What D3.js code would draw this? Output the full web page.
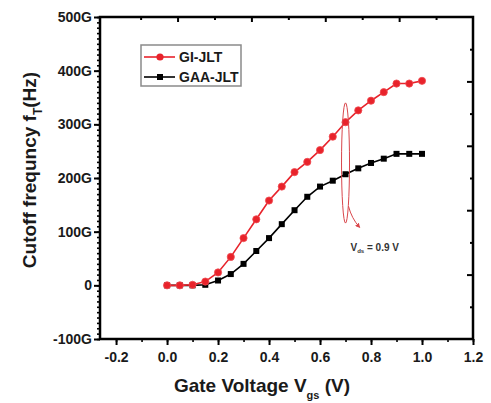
<!DOCTYPE html>
<html>
<head>
<meta charset="utf-8">
<script src="https://cdn.jsdelivr.net/npm/d3@7"></script>
<style>
  html, body { margin: 0; padding: 0; background: #fff; }
  svg { display: block; font-family: "Liberation Sans", Arial, sans-serif; }
</style>
</head>
<body>
<svg id="chart" width="491" height="403"></svg>
<script>
// ---- data ----
const vgs = [0.00,0.05,0.10,0.15,0.20,0.25,0.30,0.35,0.40,0.45,0.50,0.55,0.60,0.65,0.70,0.75,0.80,0.85,0.90,0.95,1.00];
const giJlt  = [0,0,1,7,24,53,88,123,158,184,211,230,252,277,304,326,344,360,376,376,381];
const gaaJlt = [0,0,0,1,9,21,40,64,88,114,140,165,184,195,207,218,228,236,245,245,245];
const seriesNames = ["GI-JLT", "GAA-JLT"];
const xTicks = [-0.2,0.0,0.2,0.4,0.6,0.8,1.0,1.2];
const xTickLabels = ["-0.2","0.0","0.2","0.4","0.6","0.8","1.0","1.2"];
const yTicks = [-100,0,100,200,300,400,500];
const yTickLabels = ["-100G","0","100G","200G","300G","400G","500G"];
const annotation = { x: 0.7, y: 228, spread: 112, text: "0.9 V" };

// ---- layout ----
const svg = d3.select("#chart");
const L = 100, R = 473, T = 17, B = 339;
const x = d3.scaleLinear().domain([-0.263, 1.2]).range([L, R]);
const y = d3.scaleLinear().domain([-100, 500]).range([B, T]);
// secondary frame scales (top / right decorative ticks)
const xTop = d3.scaleLinear().domain([-0.1, 10]).range([L, R]);
const yRight = d3.scaleLinear().domain([0, 10]).range([B, T]);

const red = "#e8232b";
const txt = "#1a1a1a";

// left axis
const gL = svg.append("g").attr("transform", `translate(${L},0)`);
gL.call(d3.axisLeft(y).tickValues(d3.range(-100, 501, 10)).tickSize(3).tickFormat(""));
gL.call(g => g.selectAll(".tick line").attr("stroke", "#000").attr("stroke-width", 1.6));
const gL2 = svg.append("g").attr("transform", `translate(${L},0)`);
gL2.call(d3.axisLeft(y).tickValues(yTicks).tickSize(6).tickPadding(2)
  .tickFormat((d, i) => yTickLabels[i]));
gL2.selectAll(".tick line").attr("stroke", "#000").attr("stroke-width", 2);
gL2.selectAll(".tick text").attr("font-size", 14).attr("font-weight", "bold").attr("fill", txt);

// bottom axis
const gB = svg.append("g").attr("transform", `translate(0,${B})`);
gB.call(d3.axisBottom(x).tickValues(d3.range(-0.2, 1.21, 0.1)).tickSize(3).tickFormat(""));
gB.selectAll(".tick line").attr("stroke", "#000").attr("stroke-width", 1.6);
const gB2 = svg.append("g").attr("transform", `translate(0,${B})`);
gB2.call(d3.axisBottom(x).tickValues(xTicks).tickSize(6).tickPadding(7)
  .tickFormat((d, i) => xTickLabels[i]));
gB2.selectAll(".tick line").attr("stroke", "#000").attr("stroke-width", 2);
gB2.selectAll(".tick text").attr("font-size", 14).attr("font-weight", "bold").attr("fill", txt);

// top axis (inward)
const gT = svg.append("g").attr("transform", `translate(0,${T})`);
gT.call(d3.axisBottom(xTop).tickValues(d3.range(1, 10)).tickSize(0).tickFormat(""));
gT.selectAll(".tick line").attr("y2", d => d % 2 === 0 ? 5 : 3).attr("stroke", "#000").attr("stroke-width", 2);

// right axis (inward)
const gR = svg.append("g").attr("transform", `translate(${R},0)`);
gR.call(d3.axisLeft(yRight).tickValues(d3.range(1, 10)).tickSize(0).tickFormat(""));
gR.selectAll(".tick line").attr("x2", d => d % 2 === 0 ? -6 : -3).attr("stroke", "#000").attr("stroke-width", 2);

svg.selectAll(".domain").remove();

// frame
svg.append("rect").attr("x", L).attr("y", T).attr("width", R - L).attr("height", B - T)
  .attr("fill", "none").attr("stroke", "#000").attr("stroke-width", 2.5);

// lines
const line = d3.line().x((d, i) => x(vgs[i])).y(d => y(d));
svg.append("path").datum(gaaJlt).attr("d", line).attr("fill", "none")
  .attr("stroke", "#000").attr("stroke-width", 1.6);
svg.append("path").datum(giJlt).attr("d", line).attr("fill", "none")
  .attr("stroke", red).attr("stroke-width", 1.6);

svg.append("g").selectAll("rect").data(gaaJlt).join("rect")
  .attr("x", (d, i) => x(vgs[i]) - 3).attr("y", d => y(d) - 3)
  .attr("width", 6).attr("height", 6).attr("fill", "#000");
svg.append("g").selectAll("circle").data(giJlt).join("circle")
  .attr("cx", (d, i) => x(vgs[i])).attr("cy", d => y(d)).attr("r", 3.6)
  .attr("fill", red).attr("stroke", "#f04a50").attr("stroke-width", 0.8);

// annotation ellipse and arrow
const ecx = x(annotation.x), ecy = y(annotation.y);
const ery = y(annotation.y - annotation.spread) - ecy;
svg.append("ellipse").attr("cx", ecx).attr("cy", ecy).attr("rx", 4).attr("ry", ery)
  .attr("fill", "none").attr("stroke", "#d9464b").attr("stroke-width", 1);
const defs = svg.append("defs");
defs.append("marker").attr("id", "ah").attr("viewBox", "0 0 10 10").attr("refX", 8).attr("refY", 5)
  .attr("markerWidth", 5).attr("markerHeight", 5).attr("orient", "auto")
  .append("path").attr("d", "M0,0L10,5L0,10z").attr("fill", "#d9464b");
const ax0 = ecx + 3, ay0 = ecy + ery * 0.72;
svg.append("path")
  .attr("d", `M${ax0},${ay0} Q${ax0 + 3},${ay0 + 12} ${ax0 + 11},${ay0 + 21}`)
  .attr("fill", "none").attr("stroke", "#d9464b").attr("stroke-width", 1).attr("marker-end", "url(#ah)");

const ann = svg.append("text").attr("x", ecx + 5).attr("y", ecy + ery + 28)
  .attr("font-size", 10).attr("font-weight", "bold").attr("fill", "#333");
ann.append("tspan").text("V");
ann.append("tspan").attr("font-size", 6).attr("dy", 2).text("ds");
ann.append("tspan").attr("dy", -2).text(" = " + annotation.text);

// legend
const lg = svg.append("g");
lg.append("rect").attr("x", 141).attr("y", 45).attr("width", 100).attr("height", 41)
  .attr("fill", "#fff").attr("stroke", "#8a8a8a").attr("stroke-width", 1.5);
const lgItems = [{ name: seriesNames[0], color: red, shape: "circle" },
                 { name: seriesNames[1], color: "#000", shape: "square" }];
lgItems.forEach((it, i) => {
  const cy = 57 + i * 20;
  lg.append("line").attr("x1", 144).attr("x2", 175).attr("y1", cy).attr("y2", cy)
    .attr("stroke", it.color).attr("stroke-width", 1.6);
  if (it.shape === "circle") lg.append("circle").attr("cx", 160).attr("cy", cy).attr("r", 3.6).attr("fill", it.color);
  else lg.append("rect").attr("x", 157).attr("y", cy - 3).attr("width", 6).attr("height", 6).attr("fill", it.color);
  lg.append("text").attr("x", 179).attr("y", cy + 5).attr("font-size", 14).attr("font-weight", "bold")
    .attr("fill", txt).text(it.name);
});

// axis titles
const xt = svg.append("text").attr("x", 262).attr("y", 392).attr("text-anchor", "middle")
  .attr("font-size", 19).attr("font-weight", "bold").attr("fill", txt);
xt.append("tspan").text("Gate Voltage V");
xt.append("tspan").attr("font-size", 11).attr("dy", 7).text("gs");
xt.append("tspan").attr("dy", -7).text(" (V)");

const yt = svg.append("text").attr("transform", "translate(36,170) rotate(-90)").attr("text-anchor", "middle")
  .attr("font-size", 19).attr("font-weight", "bold").attr("fill", txt);
yt.append("tspan").text("Cutoff frequncy f");
yt.append("tspan").attr("font-size", 12).attr("dy", 6).text("T");
yt.append("tspan").attr("dy", -6).text("(Hz)");
</script>
</body>
</html>
